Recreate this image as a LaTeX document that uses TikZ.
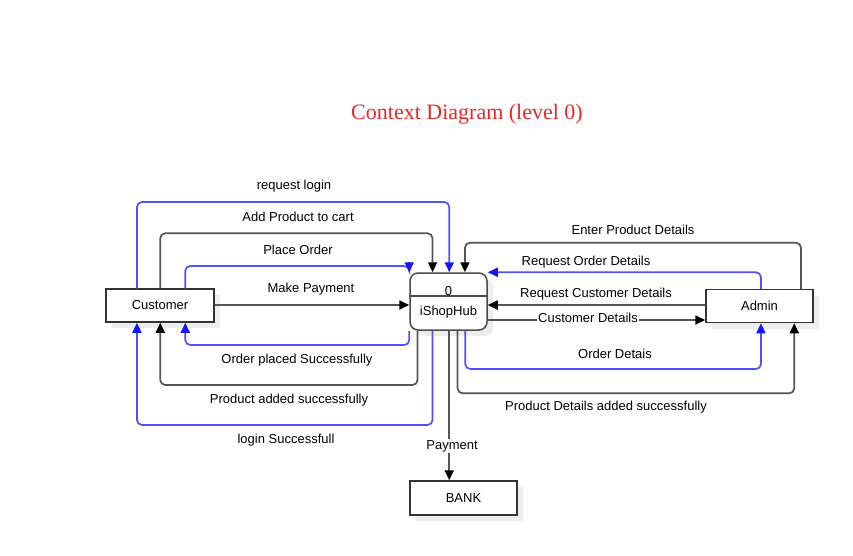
\documentclass[tikz,border=0pt]{standalone}
\usepackage{fontspec}
\setmainfont{Liberation Sans}
\newfontfamily\titlefont{Liberation Serif}
\usetikzlibrary{arrows.meta,shadows}
\definecolor{flowblue}{RGB}{80,80,255}
\definecolor{tipblue}{RGB}{20,20,255}
\definecolor{flowgray}{RGB}{85,85,85}
\definecolor{titlered}{RGB}{230,40,40}
\begin{document}
\begin{tikzpicture}[x=1pt,y=-1pt,
  font=\fontsize{13pt}{15pt}\selectfont,
  entity/.style={draw=black!80,line width=1.5pt,fill=white,minimum width=108pt,minimum height=33pt,inner sep=0pt,
    drop shadow={shadow xshift=6pt,shadow yshift=-6pt,fill=black!7,opacity=1}},
  process/.style={draw=black!70,line width=1.5pt,fill=white,rounded corners=8pt,minimum width=77pt,minimum height=57pt,inner sep=0pt,
    drop shadow={shadow xshift=6pt,shadow yshift=-6pt,fill=black!7,opacity=1}},
  bline/.style={draw=flowblue,line width=1.7pt,rounded corners=5pt},
  kline/.style={draw=flowgray,line width=1.7pt,rounded corners=5pt},
  btip/.style={-{Triangle[length=10pt,width=9pt,fill=tipblue,color=tipblue]}},
  ktip/.style={-{Triangle[length=10pt,width=9pt,fill=black,color=black]}},
  bflow/.style={bline,btip},
  kflow/.style={kline,ktip},
  lbl/.style={fill=white,inner sep=1pt}
]
\useasboundingbox[fill=white] (0,0) rectangle (853,555);

% title
\node[text=titlered,font=\titlefont\fontsize{22pt}{25pt}\selectfont] (title) at (467,114) {Context Diagram (level 0)};

% nodes
\node[entity] (cust) at (160,305.5) {Customer};
\node[process] (hub) at (448.5,301.5) {};
\draw[draw=black!70,line width=1.5pt] ([yshift=-23.5pt]hub.north west) -- ([yshift=-23.5pt]hub.north east);
\node (hubnum) at (448.5,291) {0};
\node (hubname) at (448.5,312.5) {iShopHub};
\node[entity,minimum width=107pt] (admin) at (759.5,306) {Admin};
\node[entity,minimum width=107pt,minimum height=34pt] (bank) at (463.5,498) {BANK};

% attachment points
\coordinate (ct1) at ([xshift=31.7pt]cust.north west);
\coordinate (ct2) at ([xshift=55pt]cust.north west);
\coordinate (ct3) at ([xshift=80pt]cust.north west);
\coordinate (cb1) at ([xshift=31.7pt]cust.south west);
\coordinate (cb2) at ([xshift=55pt]cust.south west);
\coordinate (cb3) at ([xshift=80pt]cust.south west);
\coordinate (ht2) at ([xshift=23.3pt]hub.north west);
\coordinate (ht3) at ([xshift=40pt]hub.north west);
\coordinate (ht4) at ([xshift=55.7pt]hub.north west);
\coordinate (hb1) at ([xshift=8.3pt]hub.south west);
\coordinate (hb2) at ([xshift=23.3pt]hub.south west);
\coordinate (hb3) at ([xshift=40pt]hub.south west);
\coordinate (hb4) at ([xshift=48.3pt]hub.south west);
\coordinate (hb5) at ([xshift=56pt]hub.south west);
\coordinate (at1) at ([xshift=55.7pt]admin.north west);
\coordinate (at2) at ([xshift=95.7pt]admin.north west);
\coordinate (ab1) at ([xshift=55.7pt]admin.south west);
\coordinate (ab2) at ([xshift=89pt]admin.south west);
% levels
\coordinate (yRL) at (0,202);
\coordinate (yAP) at (0,233.3);
\coordinate (yPO) at (0,266);
\coordinate (yMP) at (0,305);
\coordinate (yOP) at (0,345);
\coordinate (yPA) at (0,385);
\coordinate (yLS) at (0,425);
\coordinate (yEP) at (0,242.7);
\coordinate (yOD) at (0,369);
\coordinate (yPD) at (0,393.3);
\coordinate (yRC) at (0,305);
\coordinate (yCD) at (0,320);

% Customer <-> iShopHub
\draw[bflow] (ct1) -- (ct1 |- yRL) -- (ht3 |- yRL) -- (ht3);
\draw[kflow] (ct2) -- (ct2 |- yAP) -- (ht2 |- yAP) -- (ht2);
\draw[bline] (ct3) -- (ct3 |- yPO) -- (hub.north west |- yPO) -- ([yshift=3pt]hub.north west);
\draw[btip,draw=flowblue,line width=1.7pt] ([yshift=10pt]hub.north west) -- (hub.north west);
\draw[kflow] (cust.east |- yMP) -- (hub.west |- yMP);
\draw[bflow] (hub.south west) -- (hub.south west |- yOP) -- (cb3 |- yOP) -- (cb3);
\draw[kflow] (hb1) -- (hb1 |- yPA) -- (cb2 |- yPA) -- (cb2);
\draw[bflow] (hb2) -- (hb2 |- yLS) -- (cb1 |- yLS) -- (cb1);

% Admin <-> iShopHub
\draw[kflow] (at2) -- (at2 |- yEP) -- (ht4 |- yEP) -- (ht4);
\draw[bflow] (at1) -- (at1 |- hub.north east) -- (hub.north east);
\draw[kflow] (admin.west |- yRC) -- (hub.east |- yRC);
\draw[kflow] (hub.east |- yCD) -- (admin.west |- yCD);
\draw[bflow] (hb5) -- (hb5 |- yOD) -- (ab1 |- yOD) -- (ab1);
\draw[kflow] (hb4) -- (hb4 |- yPD) -- (ab2 |- yPD) -- (ab2);

% iShopHub -> BANK
\draw[kflow] (hb3) -- (hb3 |- bank.north);

% labels
\node[lbl] (l1) at (294,186) {request login};
\node[lbl] (l2) at (298,217) {Add Product to cart};
\node[lbl] (l3) at (298,250) {Place Order};
\node[lbl] (l4) at (311,289) {Make Payment};
\node[lbl] (l5) at (297,360) {Order placed Successfully};
\node[lbl] (l6) at (289,400) {Product added successfully};
\node[lbl] (l7) at (286,440) {login Successfull};
\node[lbl] (l8) at (452,446) {Payment};
\node[lbl] (l9) at (633,230) {Enter Product Details};
\node[lbl] (l10) at (586,262) {Request Order Details};
\node[lbl] (l11) at (596,294.5) {Request Customer Details};
\node[lbl] (l12) at (588,318) {Customer Details};
\node[lbl] (l13) at (615,354) {Order Detais};
\node[lbl] (l14) at (606,407) {Product Details added successfully};
\end{tikzpicture}
\end{document}
